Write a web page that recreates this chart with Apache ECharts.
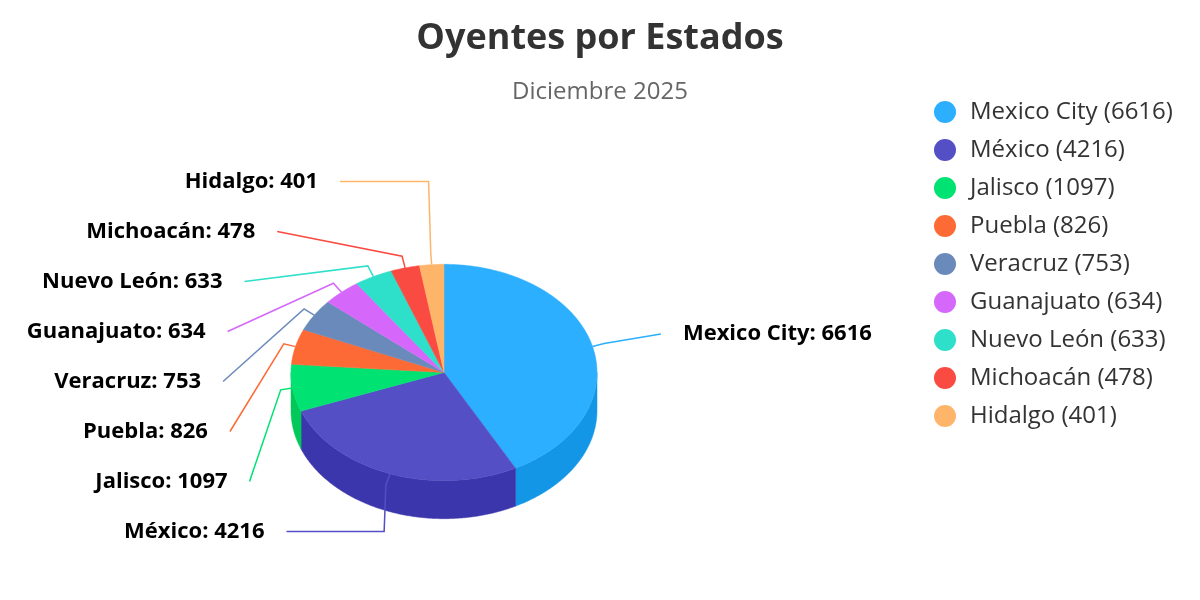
<!DOCTYPE html>
<html>
<head>
<meta charset="utf-8">
<title>Oyentes por Estados</title>
<script src="https://cdn.jsdelivr.net/npm/echarts@6/dist/echarts.min.js"></script>
<style>
    html, body { margin: 0; padding: 0; background: #fff; }
    #chart { width: 1200px; height: 600px; }
</style>
</head>
<body>
<div id="chart"></div>
<script>
    // data
    var states = ['Mexico City', 'México', 'Jalisco', 'Puebla', 'Veracruz', 'Guanajuato', 'Nuevo León', 'Michoacán', 'Hidalgo'];
    var listeners = [6616, 4216, 1097, 826, 753, 634, 633, 478, 401];
    var palette = ['#2caffe', '#544fc5', '#00e272', '#fe6a35', '#6b8abc', '#d568fb', '#2ee0ca', '#fa4b42', '#feb56a'];

    var FONT = '"Open Sans", "Noto Sans", sans-serif';

    // pie geometry, tilted 45deg
    var pie = { cx: 444, cy: 372.5, r: 153, alpha: 45, depth: 38 };
    pie.ry = pie.r * Math.cos(pie.alpha * Math.PI / 180);

    // data label layout
    var lab = { distance: 68, breakOffset: 12, gap: 50, top: 181.5, bottom: 531.5, padding: 22, cyShift: 4 };

    var RAD = Math.PI / 180;

    function shade(hex, amount) {
        var n = parseInt(hex.slice(1), 16);
        var c = [(n >> 16) & 255, (n >> 8) & 255, n & 255].map(function(v) {
            return Math.max(0, Math.min(255, v + parseInt(255 * amount, 10)));
        });
        return 'rgb(' + c.join(',') + ')';
    }

    function edge(deg, off) {
        off = off || 0;
        return [pie.cx + (pie.r + off) * Math.cos(deg * RAD), pie.cy + (pie.ry + off) * Math.sin(deg * RAD)];
    }

    // spread labels vertically so they do not overlap
    function distribute(items) {
        items.sort(function(a, b) { return a.ny - b.ny; });
        var groups = items.map(function(it) { return { members: [it] }; });

        function place(g) {
            var n = g.members.length;
            var mean = g.members.reduce(function(s, m) { return s + m.ny; }, 0) / n;
            var first = mean - (n - 1) * lab.gap / 2;
            g.first = Math.max(lab.top, Math.min(first, lab.bottom - (n - 1) * lab.gap));
        }
        groups.forEach(place);

        var merged = true;
        while (merged) {
            merged = false;
            for (var i = 0; i < groups.length - 1; i++) {
                var a = groups[i], b = groups[i + 1];
                if (a.first + a.members.length * lab.gap > b.first + 0.01) {
                    a.members = a.members.concat(b.members);
                    groups.splice(i + 1, 1);
                    place(a);
                    merged = true;
                    break;
                }
            }
        }
        groups.forEach(function(g) {
            g.members.forEach(function(m, k) { m.y = g.first + k * lab.gap; });
        });
    }

    function buildSlices() {
        var total = listeners.reduce(function(a, b) { return a + b; }, 0);
        var start = -90; // degrees from 3 o'clock, clockwise
        var slices = listeners.map(function(v, i) {
            var sweep = v / total * 360;
            var s = { name: states[i], value: v, start: start, end: start + sweep };
            start += sweep;
            s.mid = (s.start + s.end) / 2;
            s.left = Math.cos(s.mid * RAD) < 0;
            s.ny = pie.cy + lab.cyShift + (pie.ry + lab.distance) * Math.sin(s.mid * RAD);
            return s;
        });

        distribute(slices.filter(function(s) { return s.left; }));
        distribute(slices.filter(function(s) { return !s.left; }));

        var R = pie.r + lab.distance;
        slices.forEach(function(s) {
            var dy = s.y - (pie.cy + lab.cyShift);
            var dx = Math.sqrt(Math.max(0, R * R - dy * dy));
            var ax = s.left ? pie.cx - dx : pie.cx + dx;
            var touch = edge(s.mid, 0);
            var brk = edge(s.mid, lab.breakOffset);
            var crookX = pie.cx + (pie.cy - s.y) * Math.tan(s.mid * RAD - Math.PI / 2);
            var pts = [[ax, s.y]];
            if (s.left ? (crookX >= ax && crookX <= brk[0]) : (crookX <= ax && crookX >= brk[0])) {
                pts.push([crookX, s.y]);
            }
            pts.push(brk, touch);
            s.connector = pts;
            s.textX = s.left ? ax - lab.padding : ax + lab.padding;
        });
        return slices;
    }

    var slices = buildSlices();

    function arc(from, to, dy) {
        var pts = [];
        var steps = Math.max(2, Math.ceil((to - from) / 0.5));
        for (var k = 0; k <= steps; k++) {
            var p = edge(from + (to - from) * k / steps, 0);
            pts.push([p[0], p[1] + (dy || 0)]);
        }
        return pts;
    }

    function makeRender(s, color) {
        return function(params, api) {
            var children = [];

            // outer wall, only the part facing the viewer
            var a = Math.max(s.start, 0), b = Math.min(s.end, 180);
            if (b > a) {
                var wall = arc(a, b, 0).concat(arc(a, b, pie.depth).reverse());
                children.push({
                    type: 'polygon',
                    shape: { points: wall },
                    style: { fill: shade(color, -0.1), stroke: shade(color, -0.1), lineWidth: 0.5 }
                });
            }

            // top face
            children.push({
                type: 'polygon',
                shape: { points: [[pie.cx, pie.cy]].concat(arc(s.start, s.end, 0)) },
                style: { fill: color, stroke: color, lineWidth: 0.5 }
            });

            children.push({
                type: 'polyline',
                shape: { points: s.connector },
                style: { stroke: color, lineWidth: 1.5, fill: null }
            });

            children.push({
                type: 'text',
                style: {
                    x: s.textX,
                    y: s.y,
                    text: s.name + ': ' + s.value,
                    fill: '#000',
                    font: 'bold 22px ' + FONT,
                    align: s.left ? 'right' : 'left',
                    textAlign: s.left ? 'right' : 'left',
                    verticalAlign: 'middle',
                    textVerticalAlign: 'middle'
                }
            });

            return { type: 'group', children: children };
        };
    }

    var series = slices.map(function(s, i) {
        return {
            name: s.name,
            type: 'custom',
            coordinateSystem: 'none',
            itemStyle: { color: palette[i] },
            renderItem: makeRender(s, palette[i]),
            data: [[s.value]]
        };
    });

    var chart = echarts.init(document.getElementById('chart'));
    chart.setOption({
        animation: false,
        backgroundColor: '#fff',
        textStyle: { fontFamily: FONT },
        title: {
            text: 'Oyentes por Estados',
            subtext: 'Diciembre 2025',
            left: 'center',
            top: 16,
            itemGap: 23,
            textStyle: { fontSize: 36, fontWeight: 'bold', color: '#333', fontFamily: FONT },
            subtextStyle: { fontSize: 24, color: '#666', fontFamily: FONT }
        },
        legend: {
            orient: 'vertical',
            left: 929,
            top: 95,
            icon: 'circle',
            itemWidth: 40,
            itemHeight: 22,
            itemGap: 14,
            data: states,
            formatter: function(name) {
                return name + ' (' + listeners[states.indexOf(name)] + ')';
            },
            textStyle: { fontSize: 24, color: '#333', fontFamily: FONT }
        },
        series: series
    });
</script>
</body>
</html>
